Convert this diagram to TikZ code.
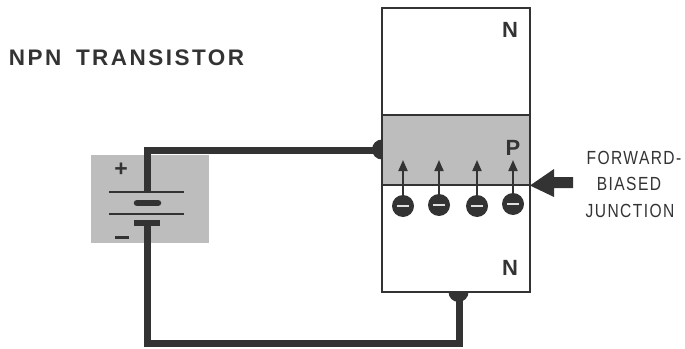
\documentclass[tikz,border=0pt]{standalone}
\usepackage{fontspec}
\setmainfont{Liberation Sans}
\newfontfamily\labelfont[LetterSpace=9]{Liberation Sans}
\newfontfamily\titlefont[LetterSpace=11]{Liberation Sans}
\usetikzlibrary{calc, arrows.meta}

\definecolor{greyfill}{gray}{0.74}
\definecolor{ink}{gray}{0.2}

\newcommand{\narrowtag}[1]{\scalebox{0.82}[1]{#1}}

\tikzset{
    wire/.style={ink, line width=7pt},
    plate/.style={ink, line width=2.5pt},
    stub/.style={ink, line width=6.5pt},
    layer/.style={font=\bfseries\fontsize{22}{22}\selectfont, text=ink, inner sep=0pt},
    tag/.style={font=\labelfont\fontsize{19}{19}\selectfont, text=ink, inner sep=0pt},
    drift/.style={ink, line width=1.8pt, -{Triangle[length=11pt, width=9pt]}}
}

\begin{document}
\begin{tikzpicture}[x=1pt, y=-1pt]
    \useasboundingbox (0, 0) rectangle (685, 348);

    \coordinate (TL) at (382, 8);
    \coordinate (BR) at (530, 292);
    \coordinate (PL) at (382, 115);
    \coordinate (JL) at (382, 185);
    \coordinate (JR) at (530, 185);

    % shaded areas first
    \fill[greyfill] (PL) rectangle (JR);
    \fill[greyfill] (91, 155) rectangle (209, 243);

    \draw[ink, line width=1.3pt] (TL) rectangle (BR);
    \draw[ink, line width=1.3pt] (PL) -- (PL -| BR);
    \draw[ink, line width=1.6pt] (JL) -- (JR);

    \node[layer] (n1) at (510, 30) {N};
    \node[layer] (p) at (513, 148) {P};
    \node[layer] (n2) at (510, 268) {N};

    % battery
    \coordinate (B1) at (147, 192);
    \coordinate (B2) at (147, 203);
    \coordinate (B3) at (147, 214);
    \coordinate (B4) at (147, 223);
    \draw[plate] ($(B1)+(-38, 0)$) -- ($(B1)+(37, 0)$);
    \draw[stub, line cap=round] ($(B2)+(-10, 0)$) -- ($(B2)+(11, 0)$);
    \draw[plate] ($(B3)+(-38, 0)$) -- ($(B3)+(37, 0)$);
    \draw[stub] ($(B4)+(-13, 0)$) -- ($(B4)+(13, 0)$);
    \node[inner sep=0pt, text=ink, font=\bfseries\fontsize{23}{23}\selectfont] (plus) at (121, 170) {+};
    \fill[ink] (115, 235.5) rectangle (129, 239);

    % wires
    \coordinate (E) at (377, 150);
    \coordinate (C) at (459, 297);
    \draw[wire] (B1) -- (147, 150) -- (E);
    \draw[wire] (B4) -- (147, 343) -- (459, 343) -- (C);
    \fill[ink] (382, 139.5) arc (270:90:10) -- cycle;
    \fill[ink] (448.5, 292) arc (180:0:10) -- cycle;

    % electrons
    \foreach \ex/\ey in {403/206, 439/205, 477/206, 513/204}{
        \fill[ink] (\ex, \ey) circle (11);
        \fill[white!85!ink] (\ex-6, \ey-1) rectangle (\ex+6, \ey+1.4);
        \draw[drift] (\ex, \ey-9) -- (\ex, 160);
    }

    % pointer
    \fill[ink] (530, 185.5) -- (554, 169) -- (554, 177) -- (573, 177) -- (573, 188)
        -- (554, 188) -- (554, 197) -- cycle;

    \node[inner sep=0pt, text=ink, font=\titlefont\bfseries\fontsize{22.5}{22.5}\selectfont] (title) at (126.5, 58) {NPN\hspace{6pt} TRANSISTOR};
    \node[tag] (fwd) at (634, 158) {\narrowtag{FORWARD-}};
    \node[tag] (bia) at (629, 184) {\narrowtag{BIASED}};
    \node[tag] (jun) at (630, 211) {\narrowtag{JUNCTION}};
\end{tikzpicture}
\end{document}
